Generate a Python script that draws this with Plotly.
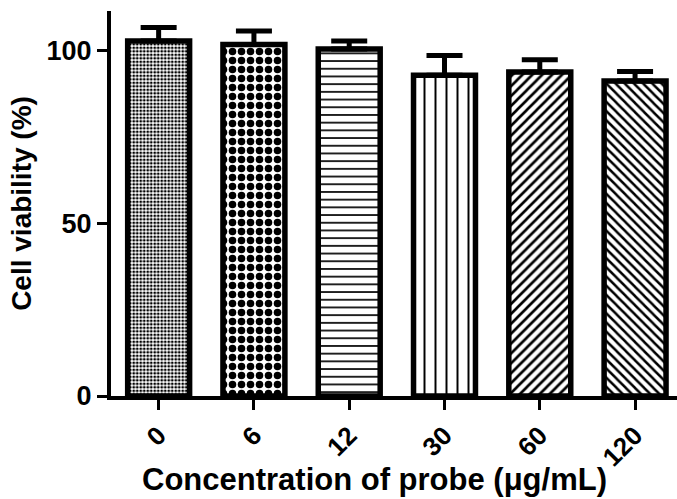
import plotly.graph_objects as go

categories = ["0", "6", "12", "30", "60", "120"]
viability = [102.8, 101.8, 100.5, 92.9, 93.8, 91.2]
error_up = [3.9, 3.9, 2.3, 5.7, 3.6, 2.8]
y_ticks = [0, 50, 100]
x_title = "Concentration of probe (μg/mL)"
y_title = "Cell viability (%)"

shapes = [".", ".", "-", "|", "/", "\\"]
sizes = [3.5, 9, 7.7, 11, 7, 6.5]
solids = [0.5, 0.55, 0.22, 0.18, 0.38, 0.38]

FONT = "Liberation Sans, Arial, sans-serif"

fig = go.Figure()
fig.add_trace(go.Bar(
    x=categories,
    y=viability,
    marker=dict(
        color="white",
        line=dict(color="black", width=5.5),
        pattern=dict(shape=shapes, size=sizes, solidity=solids,
                     fgcolor="black", bgcolor="white", fillmode="replace"),
    ),
    error_y=dict(type="data", symmetric=False, array=error_up,
                 arrayminus=[0] * len(error_up),
                 color="black", thickness=5, width=18),
    showlegend=False,
))

fig.update_layout(
    width=677, height=499,
    margin=dict(l=111, r=0, t=11, b=103, pad=0),
    plot_bgcolor="white", paper_bgcolor="white",
    bargap=0.35,
    font=dict(family=FONT, color="black"),
    xaxis=dict(
        type="category", range=[-0.5, 5.44],
        showline=True, linewidth=4, linecolor="black",
        ticks="outside", ticklen=10, tickwidth=3, tickcolor="black",
        tickangle=-45,
        tickfont=dict(family=FONT, size=26, weight="bold"),
        showgrid=False,
    ),
    yaxis=dict(
        range=[0, 111.5], tickvals=y_ticks,
        showline=True, linewidth=4, linecolor="black",
        ticks="outside", ticklen=10, tickwidth=3, tickcolor="black",
        tickfont=dict(family=FONT, size=27, weight="bold"),
        showgrid=False, zeroline=False,
        title=dict(text=y_title, standoff=8,
                   font=dict(family=FONT, size=28, weight="bold")),
    ),
    annotations=[dict(
        text=x_title, xref="paper", yref="paper",
        x=0.466, y=-0.218, xanchor="center", yanchor="middle",
        showarrow=False,
        font=dict(family=FONT, size=31, weight="bold"),
    )],
)

fig.write_html("out.html")
